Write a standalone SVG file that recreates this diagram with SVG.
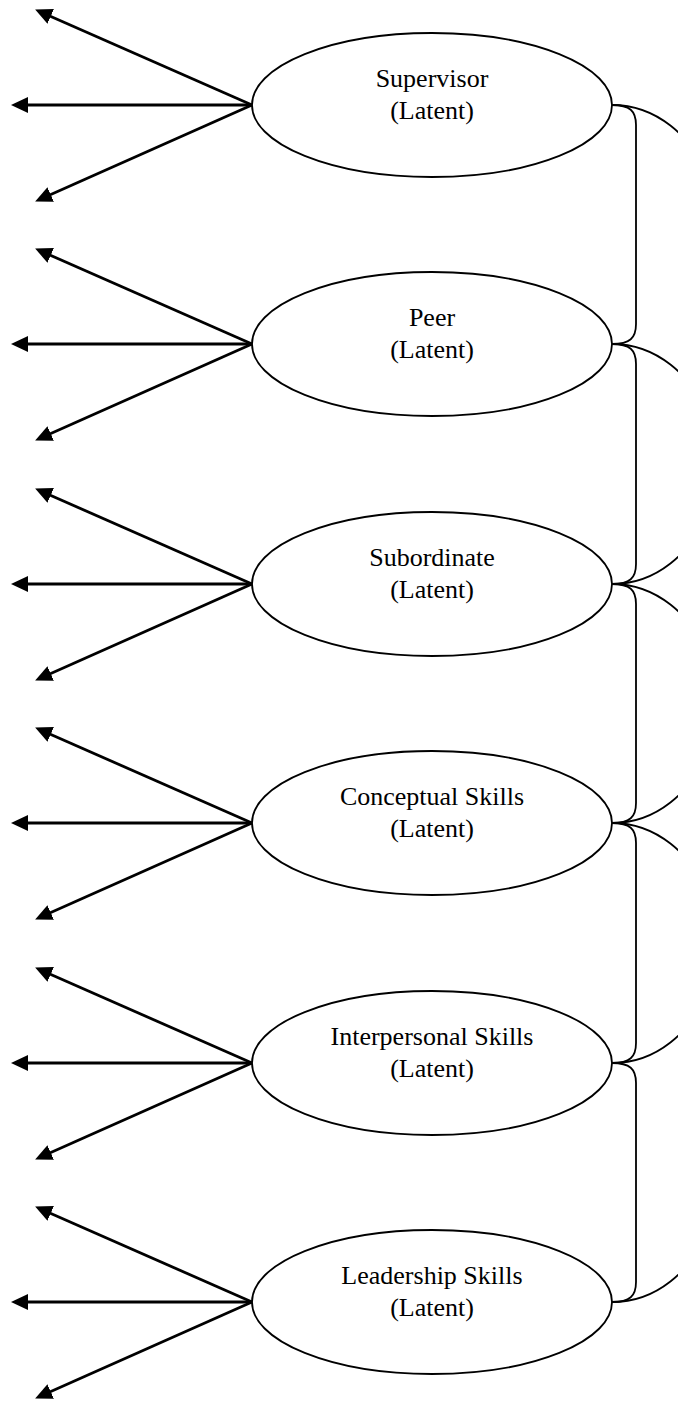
<svg xmlns="http://www.w3.org/2000/svg" width="678" height="1402" viewBox="0 0 678 1402">
<style>
.node ellipse{fill:#fff;stroke:#000;stroke-width:1.8}
.node text{font-family:"Liberation Serif","Times New Roman",serif;font-size:26px;fill:#000;text-anchor:middle}
.arr{stroke:#000;stroke-width:2.8;fill:none;marker-end:url(#ah)}
.con{stroke:#000;stroke-width:1.8;fill:none}
</style>
<defs>
<marker id="ah" markerUnits="userSpaceOnUse" markerWidth="18" markerHeight="18" refX="6" refY="8" orient="auto" viewBox="0 0 18 18">
<path d="M0,0 L17,8 L0,16 z" fill="#000"/>
</marker>
</defs>
<g id="connectors">
<g id="arrows">
<line class="arr" x1="252" y1="105" x2="45.2" y2="14"/><line class="arr" x1="252" y1="105" x2="22" y2="105"/><line class="arr" x1="252" y1="105" x2="45.2" y2="197"/>
<line class="arr" x1="252" y1="344" x2="45.2" y2="253"/><line class="arr" x1="252" y1="344" x2="22" y2="344"/><line class="arr" x1="252" y1="344" x2="45.2" y2="436"/>
<line class="arr" x1="252" y1="584" x2="45.2" y2="493"/><line class="arr" x1="252" y1="584" x2="22" y2="584"/><line class="arr" x1="252" y1="584" x2="45.2" y2="676"/>
<line class="arr" x1="252" y1="823" x2="45.2" y2="732"/><line class="arr" x1="252" y1="823" x2="22" y2="823"/><line class="arr" x1="252" y1="823" x2="45.2" y2="915"/>
<line class="arr" x1="252" y1="1063" x2="45.2" y2="972"/><line class="arr" x1="252" y1="1063" x2="22" y2="1063"/><line class="arr" x1="252" y1="1063" x2="45.2" y2="1155"/>
<line class="arr" x1="252" y1="1302" x2="45.2" y2="1211"/><line class="arr" x1="252" y1="1302" x2="22" y2="1302"/><line class="arr" x1="252" y1="1302" x2="45.2" y2="1394"/>
</g>
<g id="brackets">
<path class="con" d="M612,105 C630,105 636,111 636,125 L636,324 C636,338 630,344 612,344"/>
<path class="con" d="M612,344 C630,344 636,350 636,364 L636,564 C636,578 630,584 612,584"/>
<path class="con" d="M612,584 C630,584 636,590 636,604 L636,803 C636,817 630,823 612,823"/>
<path class="con" d="M612,823 C630,823 636,829 636,843 L636,1043 C636,1057 630,1063 612,1063"/>
<path class="con" d="M612,1063 C630,1063 636,1069 636,1083 L636,1282 C636,1296 630,1302 612,1302"/>
</g>
<g id="arcs">
<path class="con" d="M612,105 C790,105 790,584 612,584"/>
<path class="con" d="M612,344 C790,344 790,823 612,823"/>
<path class="con" d="M612,584 C790,584 790,1063 612,1063"/>
<path class="con" d="M612,823 C790,823 790,1302 612,1302"/>
</g>
</g>
<g id="supervisor" class="node"><ellipse cx="432" cy="105" rx="180" ry="72"/><text x="432" y="87">Supervisor</text><text x="432" y="118.5">(Latent)</text></g>
<g id="peer" class="node"><ellipse cx="432" cy="344" rx="180" ry="72"/><text x="432" y="326">Peer</text><text x="432" y="357.5">(Latent)</text></g>
<g id="subordinate" class="node"><ellipse cx="432" cy="584" rx="180" ry="72"/><text x="432" y="566">Subordinate</text><text x="432" y="597.5">(Latent)</text></g>
<g id="conceptual" class="node"><ellipse cx="432" cy="823" rx="180" ry="72"/><text x="432" y="805">Conceptual Skills</text><text x="432" y="836.5">(Latent)</text></g>
<g id="interpersonal" class="node"><ellipse cx="432" cy="1063" rx="180" ry="72"/><text x="432" y="1045">Interpersonal Skills</text><text x="432" y="1076.5">(Latent)</text></g>
<g id="leadership" class="node"><ellipse cx="432" cy="1302" rx="180" ry="72"/><text x="432" y="1284">Leadership Skills</text><text x="432" y="1315.5">(Latent)</text></g>
</svg>
